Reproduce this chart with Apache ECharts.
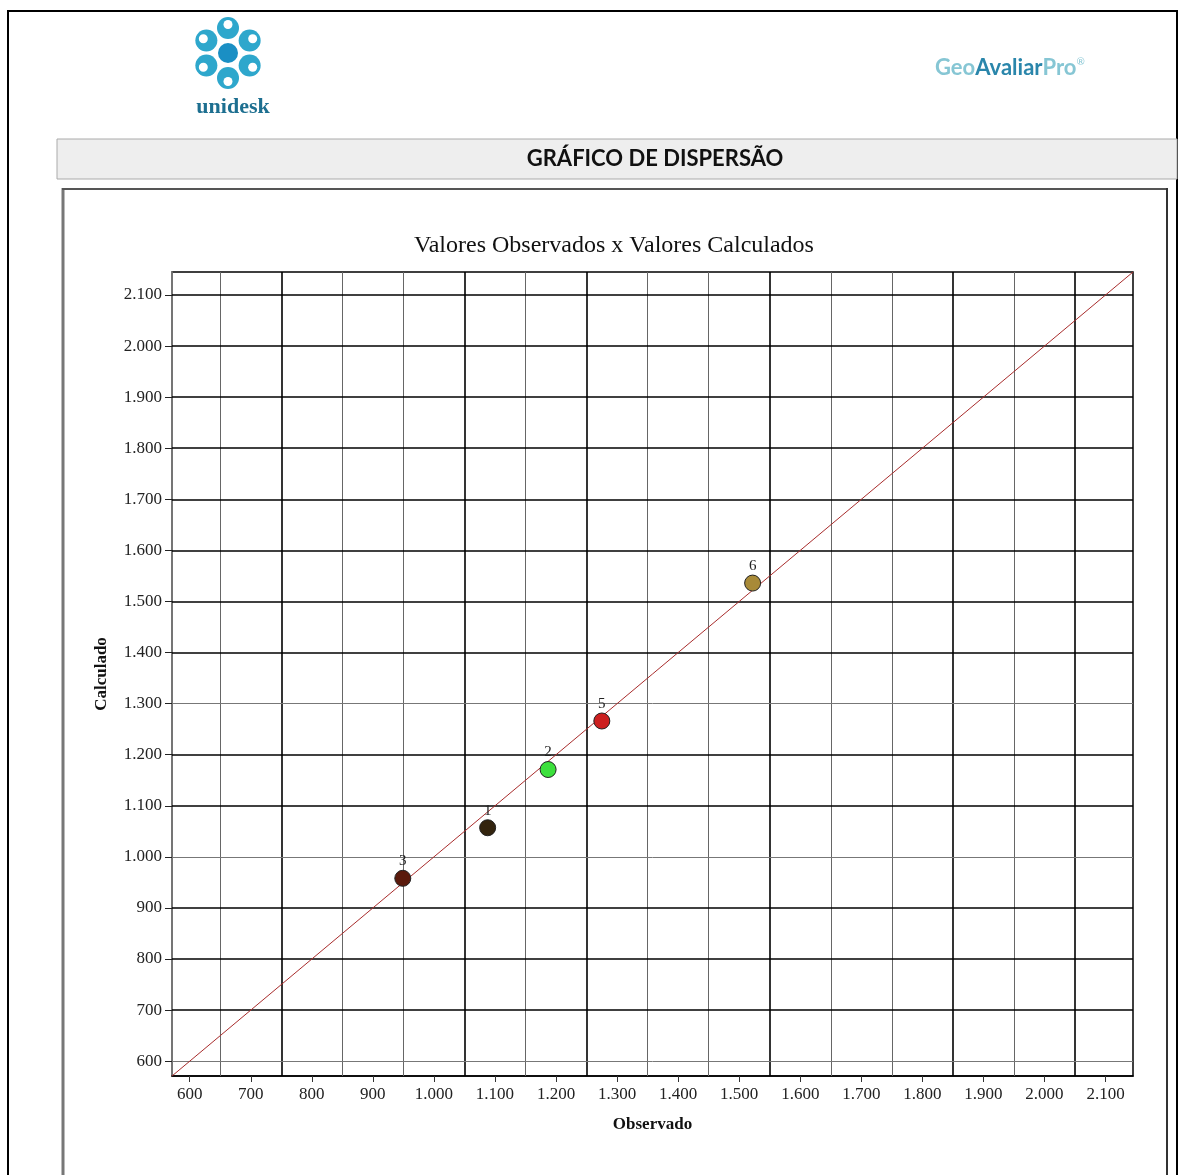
<!DOCTYPE html>
<html>
<head>
<meta charset="utf-8">
<title>Gráfico de Dispersão</title>
<script src="https://cdn.jsdelivr.net/npm/echarts@6/dist/echarts.min.js"></script>
<style>
  html, body { margin: 0; padding: 0; background: #fff; }
  #chart { width: 1179px; height: 1175px; }
</style>
</head>
<body>
<div id="chart"></div>
<script>
// Data
const pointIds = ['1', '2', '3', '5', '6']
const observed = [1088, 1187, 949, 1275, 1522]
const calculated = [1057, 1171, 958, 1266, 1536]
const tickValues = [600, 700, 800, 900, 1000, 1100, 1200, 1300, 1400, 1500, 1600, 1700, 1800, 1900, 2000, 2100]
const xGridValues = [650, 750, 850, 950, 1050, 1150, 1250, 1350, 1450, 1550, 1650, 1750, 1850, 1950, 2050]
const axisRange = [571, 2145]

// Styling
const pointColors = ['#33240e', '#3ce03c', '#5a1a0c', '#cc1f1f', '#a88a38']
const strongX = [750, 1050, 1250, 1550, 1850, 2050]
const weakY = [600, 1000, 1300]
const serif = '"Liberation Serif", "DejaVu Serif", serif'

const fmt = v => String(v).replace(/\B(?=(\d{3})+(?!\d))/g, '.')

const chart = echarts.init(document.getElementById('chart'), null, { renderer: 'canvas' })

// Logo petals (unidesk)
const petals = [-90, -30, 30, 90, 150, 210].map(a => {
  const r = 25
  const px = Math.cos(a * Math.PI / 180) * r
  const py = Math.sin(a * Math.PI / 180) * r
  return {
    type: 'group',
    x: px, y: py,
    children: [
      { type: 'circle', shape: { cx: 0, cy: 0, r: 11 }, style: { fill: '#2ea7cc' } },
      { type: 'circle', shape: { cx: px * 0.14, cy: py * 0.14, r: 4.5 }, style: { fill: '#ffffff' } }
    ]
  }
})

const axisLabelStyle = {
  fontFamily: serif,
  fontSize: 17,
  color: '#222',
  formatter: fmt,
  customValues: tickValues
}

const option = {
  animation: false,
  backgroundColor: '#fff',
  graphic: [
    // outer page border
    { type: 'polyline', shape: { points: [[8, 1175], [8, 11], [1177, 11], [1177, 1175]] },
      style: { stroke: '#000', lineWidth: 2, fill: null } },
    // logo
    { type: 'group', x: 228, y: 53, children: petals.concat([
      { type: 'circle', shape: { cx: 0, cy: 0, r: 10 }, style: { fill: '#1a8fc4' } }
    ]) },
    { type: 'text', x: 233, y: 107,
      style: { text: 'unidesk', font: 'bold 22px ' + serif, fill: '#1d6f90', textAlign: 'center', textVerticalAlign: 'middle' } },
    // GeoAvaliarPro
    { type: 'text', x: 935, y: 68,
      style: {
        text: '{g|Geo}{a|Avaliar}{g|Pro}{r|®}',
        textVerticalAlign: 'middle',
        rich: {
          g: { fill: '#86c6d4', fontSize: 22, fontWeight: 'bold', fontFamily: 'Lato, sans-serif' },
          a: { fill: '#2a86ab', fontSize: 22, fontWeight: 'bold', fontFamily: 'Lato, sans-serif' },
          r: { fill: '#86c6d4', fontSize: 10, fontFamily: 'Lato, sans-serif', verticalAlign: 'top', padding: [0, 0, 12, 0] }
        }
      } },
    // section title bar
    { type: 'rect', shape: { x: 57, y: 139, width: 1120, height: 40 },
      style: { fill: '#eeeeee', stroke: '#aaaaaa', lineWidth: 1 } },
    { type: 'text', x: 655, y: 159,
      style: { text: 'GRÁFICO DE DISPERSÃO', font: 'bold 22px Lato, sans-serif', fill: '#111', textAlign: 'center', textVerticalAlign: 'middle' } },
    // chart frame
    { type: 'line', shape: { x1: 63, y1: 188, x2: 63, y2: 1175 }, style: { stroke: '#777', lineWidth: 3 } },
    { type: 'line', shape: { x1: 62, y1: 189, x2: 1167, y2: 189 }, style: { stroke: '#555', lineWidth: 2 } },
    { type: 'line', shape: { x1: 1167, y1: 188, x2: 1167, y2: 1175 }, style: { stroke: '#333', lineWidth: 2 } },
    // chart title
    { type: 'text', x: 614, y: 246,
      style: { text: 'Valores Observados x Valores Calculados', font: '24px ' + serif, fill: '#111', textAlign: 'center', textVerticalAlign: 'middle' } }
  ],
  grid: {
    left: 172, top: 272, width: 961, height: 804,
    show: true, backgroundColor: '#fff', borderColor: '#000', borderWidth: 1.5
  },
  xAxis: {
    type: 'value',
    min: axisRange[0], max: axisRange[1],
    name: 'Observado', nameLocation: 'middle', nameGap: 40,
    nameTextStyle: { fontFamily: serif, fontWeight: 'bold', fontSize: 17, color: '#111' },
    axisLine: { show: true, lineStyle: { color: '#000', width: 1.5 } },
    axisTick: { show: true, length: 6, customValues: tickValues, lineStyle: { color: '#333' } },
    axisLabel: Object.assign({ margin: 10 }, axisLabelStyle),
    splitLine: { show: false }
  },
  yAxis: {
    type: 'value',
    min: axisRange[0], max: axisRange[1],
    name: 'Calculado', nameLocation: 'middle', nameGap: 62,
    nameTextStyle: { fontFamily: serif, fontWeight: 'bold', fontSize: 17, color: '#111' },
    axisLine: { show: true, lineStyle: { color: '#888', width: 1.5 } },
    axisTick: { show: true, length: 7, customValues: tickValues, lineStyle: { color: '#222' } },
    axisLabel: Object.assign({ margin: 10 }, axisLabelStyle),
    splitLine: { show: false }
  },
  series: [
    {
      // grid lines: horizontal at the ticks, vertical half way between
      name: 'grade',
      type: 'line',
      data: [],
      silent: true,
      z: 1,
      markLine: {
        z: 1,
        silent: true,
        symbol: 'none',
        label: { show: false },
        animation: false,
        data: xGridValues.map(v => ({
          xAxis: v,
          lineStyle: { type: 'solid', color: strongX.includes(v) ? '#000' : '#666', width: strongX.includes(v) ? 1.6 : 1 }
        })).concat(tickValues.map(v => ({
          yAxis: v,
          lineStyle: { type: 'solid', color: weakY.includes(v) ? '#777' : '#000', width: weakY.includes(v) ? 1 : 1.6 }
        })))
      }
    },
    {
      name: 'y = x',
      type: 'line',
      data: [[axisRange[0], axisRange[0]], [axisRange[1], axisRange[1]]],
      symbol: 'none',
      silent: true,
      z: 2,
      lineStyle: { color: '#a82c2c', width: 1 }
    },
    {
      name: 'Pontos',
      type: 'scatter',
      z: 3,
      symbolSize: 16,
      data: observed.map((x, i) => ({
        value: [x, calculated[i]],
        name: pointIds[i],
        itemStyle: { color: pointColors[i] }
      })),
      itemStyle: { borderColor: '#222', borderWidth: 1, opacity: 1 },
      label: {
        show: true, position: 'top', distance: 1,
        formatter: '{b}', fontFamily: serif, fontSize: 15, color: '#222'
      }
    }
  ]
}

chart.setOption(option)
</script>
</body>
</html>
